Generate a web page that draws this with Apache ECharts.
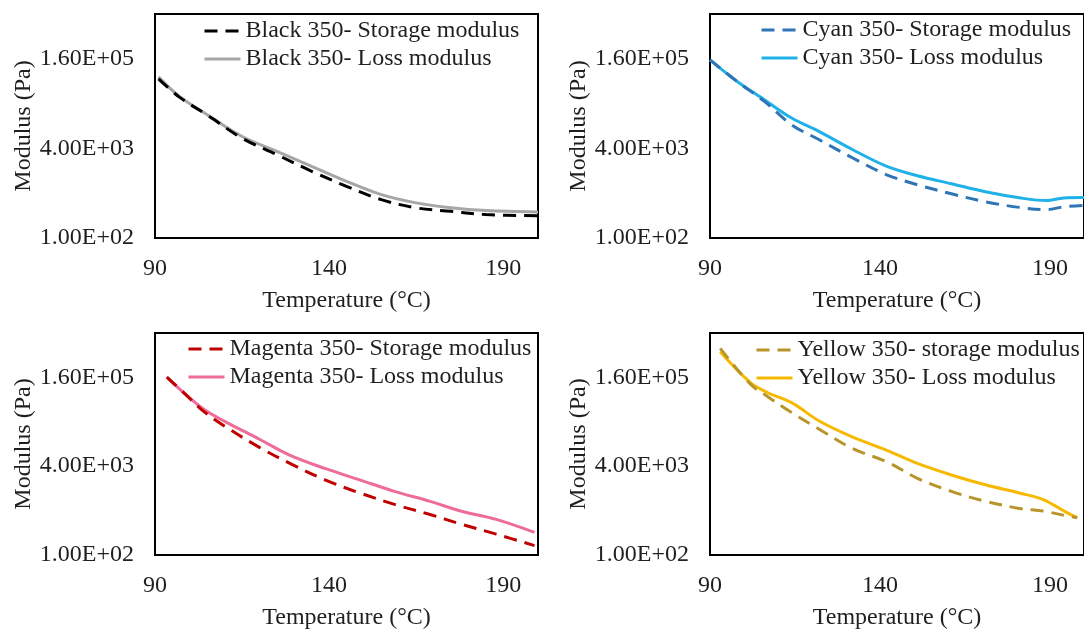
<!DOCTYPE html>
<html>
<head>
<meta charset="utf-8">
<title>Storage and loss modulus vs temperature</title>
<script src="https://cdn.jsdelivr.net/npm/echarts@6/dist/echarts.min.js"></script>
<style>
  html, body { margin: 0; padding: 0; background: #ffffff; }
  #chart { width: 1084px; height: 631px; }
</style>
</head>
<body>
<div id="chart"></div>
<script>
// Axis ticks
const xTicks = [90, 140, 190];
const yTickValues = [100, 4000, 160000];
const yTickLabels = ['1.00E+02', '4.00E+03', '1.60E+05'];

// Black 350
const blackTemp    = [91, 97, 105, 115, 125, 135, 145, 155, 165, 175, 185, 200];
const blackStorage = [70000, 33000, 15800, 6100, 3090, 1560, 840, 485, 346, 300, 262, 250];
const blackLoss    = [76000, 34000, 16000, 6540, 3550, 1910, 1030, 597, 425, 346, 309, 293];

// Cyan 350
const cyanTemp    = [90, 98, 106, 114, 122, 132, 142, 151, 161, 171, 181, 189, 194, 200];
const cyanStorage = [153000, 62800, 27700, 10570, 5760, 2690, 1350, 895, 617, 443, 353, 322, 361, 383];
const cyanLoss    = [153000, 62800, 29600, 13950, 8050, 3790, 1910, 1300, 933, 670, 523, 466, 521, 530];

// Magenta 350
const magentaTemp    = [93.4, 99, 104, 110, 120, 129, 139, 149, 159, 169, 178, 188, 199];
const magentaStorage = [161900, 76700, 38900, 21100, 8740, 4420, 2240, 1304, 811, 538, 359, 238, 148];
const magentaLoss    = [161900, 76700, 42700, 25800, 12270, 6200, 3610, 2240, 1393, 929, 617, 439, 256];

// Yellow 350
const yellowTemp    = [93, 102, 107, 114, 122, 132, 142, 151, 161, 171, 181, 188, 195, 198];
const yellowStorage = [532600, 118800, 71700, 37100, 18800, 8280, 4800, 2420, 1405, 933, 693, 620, 506, 472];
const yellowLoss    = [465000, 126900, 84600, 56000, 26500, 13380, 7750, 4490, 2780, 1846, 1315, 1000, 580, 472];

// The modulus axis is logarithmic with base 40, starting at 100 Pa.
const LOG_BASE = 40;
const Y_MIN = 100;
const toLog = v => Math.log(v / Y_MIN) / Math.log(LOG_BASE);

const FONT = 'Liberation Serif';
const TEXT = '#1f1f1f';

const panels = [
  { grid: { left: 155, top: 14, width: 383, height: 224 }, legend: { left: 203, top: 19 },
    temp: blackTemp,
    lines: [
      { name: 'Black 350- Storage modulus', data: blackStorage, color: '#000000', dashed: true },
      { name: 'Black 350- Loss modulus', data: blackLoss, color: '#a6a6a6', dashed: false }
    ] },
  { grid: { left: 710, top: 14, width: 383, height: 224 }, legend: { left: 760, top: 18 },
    temp: cyanTemp,
    lines: [
      { name: 'Cyan 350- Storage modulus', data: cyanStorage, color: '#2e75b6', dashed: true },
      { name: 'Cyan 350- Loss modulus', data: cyanLoss, color: '#1fb1e8', dashed: false }
    ] },
  { grid: { left: 155, top: 333, width: 383, height: 225 }, legend: { left: 187, top: 337 },
    temp: magentaTemp,
    lines: [
      { name: 'Magenta 350- Storage modulus', data: magentaStorage, color: '#c00000', dashed: true },
      { name: 'Magenta 350- Loss modulus', data: magentaLoss, color: '#ef6b99', dashed: false }
    ] },
  { grid: { left: 710, top: 333, width: 383, height: 225 }, legend: { left: 755, top: 338 },
    temp: yellowTemp,
    lines: [
      { name: 'Yellow 350- storage modulus', data: yellowStorage, color: '#b8952a', dashed: true },
      { name: 'Yellow 350- Loss modulus', data: yellowLoss, color: '#f7b900', dashed: false }
    ] }
];

const textStyle = { fontFamily: FONT, fontSize: 24, color: TEXT };

const option = {
  backgroundColor: '#ffffff',
  animation: false,
  textStyle: { fontFamily: FONT },
  grid: panels.map(p => Object.assign({ show: true, borderColor: '#000000', borderWidth: 2, backgroundColor: 'transparent' }, p.grid)),
  legend: panels.map(p => Object.assign({
    orient: 'vertical',
    padding: 0,
    itemGap: 4,
    itemWidth: 36,
    itemHeight: 14,
    itemStyle: { opacity: 0 },
    lineStyle: { width: 3 },
    textStyle: textStyle,
    data: p.lines.map(l => l.name)
  }, p.legend)),
  xAxis: panels.map((p, i) => ({
    type: 'value',
    gridIndex: i,
    min: 90,
    max: 200,
    interval: 50,
    name: 'Temperature (°C)',
    nameLocation: 'middle',
    nameGap: 51,
    nameTextStyle: textStyle,
    axisLine: { show: false },
    axisTick: { show: false },
    splitLine: { show: false },
    axisLabel: Object.assign({
      margin: 19,
      showMaxLabel: false,
      formatter: v => (xTicks.indexOf(v) >= 0 ? String(v) : '')
    }, textStyle)
  })),
  yAxis: panels.map((p, i) => ({
    type: 'value',
    gridIndex: i,
    min: 0,
    max: 2.5,
    interval: 1,
    name: 'Modulus (Pa)',
    nameLocation: 'middle',
    nameGap: 119,
    nameTextStyle: textStyle,
    axisLine: { show: false },
    axisTick: { show: false },
    splitLine: { show: false },
    axisLabel: Object.assign({
      margin: 21,
      showMaxLabel: false,
      formatter: k => {
        const idx = yTickValues.findIndex(t => Math.abs(toLog(t) - k) < 1e-6);
        return idx >= 0 ? yTickLabels[idx] : '';
      }
    }, textStyle)
  })),
  series: []
};

panels.forEach((p, i) => {
  p.lines.forEach(l => {
    option.series.push({
      type: 'line',
      name: l.name,
      xAxisIndex: i,
      yAxisIndex: i,
      data: p.temp.map((t, j) => [t, toLog(l.data[j])]),
      smooth: 0.35,
      symbol: 'none',
      clip: true,
      z: l.dashed ? 3 : 2,
      lineStyle: { color: l.color, width: 3, type: l.dashed ? [13, 8] : 'solid' },
      itemStyle: { color: l.color }
    });
  });
});

const chart = echarts.init(document.getElementById('chart'), null, { renderer: 'canvas' });
chart.setOption(option);
</script>
</body>
</html>
